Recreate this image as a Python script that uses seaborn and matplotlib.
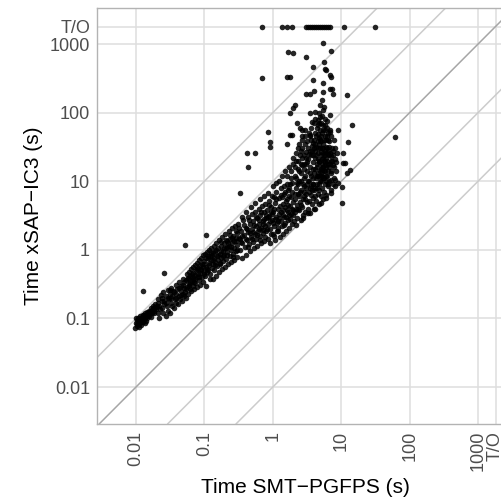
import matplotlib
matplotlib.use("Agg")
import matplotlib.pyplot as plt
from matplotlib.ticker import NullLocator
import seaborn as sns
import pandas as pd

TIMEOUT = 1800

# (SMT-PGFPS time, xSAP-IC3 time) in seconds
band_small = [
    (0.0098, 0.072), (0.0100, 0.085), (0.0102, 0.095), (0.0104, 0.078), (0.0106, 0.090),
    (0.0108, 0.102), (0.0110, 0.082), (0.0112, 0.096), (0.0114, 0.088), (0.0116, 0.108),
    (0.0118, 0.093), (0.0120, 0.080), (0.0122, 0.100), (0.0125, 0.112), (0.0127, 0.090),
    (0.0130, 0.104), (0.0132, 0.097), (0.0135, 0.118), (0.0138, 0.092), (0.0140, 0.108),
    (0.0143, 0.125), (0.0146, 0.100), (0.0150, 0.115), (0.0153, 0.130), (0.0156, 0.110),
    (0.0160, 0.122), (0.0163, 0.140), (0.0166, 0.105), (0.0170, 0.132), (0.0174, 0.118),
    (0.0178, 0.150), (0.0182, 0.128), (0.0186, 0.140), (0.0190, 0.160), (0.0195, 0.135),
    (0.0200, 0.150), (0.0112, 0.074), (0.0135, 0.085),
    (0.021, 0.12), (0.021, 0.19), (0.022, 0.15), (0.022, 0.10), (0.023, 0.22),
    (0.024, 0.14), (0.024, 0.18), (0.025, 0.12), (0.025, 0.24), (0.026, 0.16),
    (0.027, 0.11), (0.027, 0.21), (0.028, 0.15), (0.029, 0.26), (0.029, 0.13),
    (0.030, 0.19), (0.031, 0.23), (0.031, 0.12), (0.032, 0.17), (0.033, 0.28),
    (0.034, 0.15), (0.034, 0.21), (0.035, 0.25), (0.036, 0.14), (0.037, 0.19),
    (0.038, 0.31), (0.038, 0.17), (0.039, 0.23), (0.040, 0.27), (0.041, 0.16),
    (0.042, 0.21), (0.043, 0.34), (0.044, 0.19), (0.045, 0.25), (0.046, 0.30),
    (0.047, 0.18), (0.048, 0.23), (0.049, 0.38), (0.050, 0.21), (0.050, 0.28),
    (0.052, 0.24), (0.053, 0.36), (0.054, 0.20), (0.055, 0.44), (0.056, 0.29),
    (0.057, 0.39), (0.058, 0.23), (0.059, 0.48), (0.060, 0.32), (0.061, 0.27),
    (0.062, 0.41), (0.063, 0.52), (0.064, 0.25), (0.065, 0.35), (0.066, 0.45),
    (0.067, 0.30), (0.068, 0.56), (0.069, 0.38), (0.070, 0.27), (0.072, 0.60),
    (0.073, 0.43), (0.074, 0.33), (0.075, 0.50), (0.077, 0.65), (0.078, 0.29),
    (0.079, 0.40), (0.080, 0.55), (0.082, 0.70), (0.083, 0.36), (0.085, 0.46),
    (0.086, 0.31), (0.088, 0.76), (0.089, 0.52), (0.091, 0.40), (0.092, 0.62),
    (0.094, 0.83), (0.096, 0.34), (0.098, 0.48), (0.100, 0.68), (0.101, 0.88),
    (0.103, 0.42), (0.105, 0.57), (0.107, 0.30), (0.109, 0.93), (0.111, 0.75),
    (0.113, 0.50), (0.115, 0.64), (0.117, 0.99), (0.119, 0.38), (0.120, 0.82),
    (0.0101, 0.100), (0.0105, 0.082), (0.0109, 0.093), (0.0115, 0.100), (0.0121, 0.088),
    (0.0128, 0.113), (0.0136, 0.101), (0.0145, 0.112), (0.0155, 0.125), (0.0165, 0.118),
    (0.0175, 0.135), (0.0185, 0.118), (0.0196, 0.148), (0.0210, 0.165), (0.0225, 0.135),
    (0.0240, 0.20), (0.0260, 0.18), (0.0275, 0.17), (0.029, 0.20), (0.031, 0.26),
    (0.033, 0.20), (0.036, 0.24), (0.039, 0.20), (0.042, 0.28), (0.045, 0.22),
    (0.048, 0.31), (0.051, 0.34), (0.054, 0.27), (0.058, 0.37), (0.061, 0.33),
    (0.065, 0.40), (0.069, 0.46), (0.073, 0.38), (0.077, 0.52), (0.081, 0.45),
    (0.085, 0.60), (0.090, 0.50), (0.095, 0.56), (0.099, 0.62), (0.104, 0.75),
    (0.108, 0.52), (0.113, 0.82), (0.118, 0.60), (0.059, 0.30), (0.071, 0.34),
    (0.084, 0.40), (0.097, 0.45), (0.110, 0.48),
]

band_mid = [
    (0.122, 0.45), (0.124, 0.70), (0.126, 1.05), (0.128, 0.55), (0.130, 0.85),
    (0.132, 0.38), (0.134, 0.62), (0.136, 1.15), (0.138, 0.75), (0.140, 0.50),
    (0.142, 0.95), (0.145, 0.66), (0.147, 0.42), (0.150, 1.25), (0.152, 0.80),
    (0.155, 0.58), (0.157, 1.05), (0.160, 0.70), (0.163, 0.48), (0.166, 1.40),
    (0.168, 0.88), (0.171, 0.62), (0.174, 1.15), (0.177, 0.76), (0.180, 0.52),
    (0.183, 1.55), (0.186, 0.97), (0.189, 0.68), (0.192, 1.25), (0.195, 0.84),
    (0.198, 0.57), (0.202, 1.70), (0.205, 1.06), (0.209, 0.74), (0.213, 1.35),
    (0.217, 0.92), (0.221, 0.62), (0.225, 1.85), (0.229, 1.15), (0.233, 0.80),
    (0.237, 1.45), (0.241, 1.00), (0.245, 0.66), (0.250, 2.05), (0.255, 1.25),
    (0.260, 0.88), (0.265, 1.60), (0.270, 1.08), (0.275, 0.72), (0.280, 2.25),
    (0.285, 1.35), (0.290, 0.95), (0.295, 1.75), (0.300, 1.18), (0.300, 0.78),
    (0.135, 0.90), (0.175, 0.95), (0.215, 1.10), (0.255, 1.50), (0.290, 1.50),
    (0.31, 2.4), (0.32, 1.5), (0.33, 1.0), (0.34, 1.9), (0.35, 0.75),
    (0.36, 1.25), (0.37, 2.7), (0.38, 1.65), (0.39, 1.10), (0.40, 2.1),
    (0.41, 0.85), (0.42, 1.40), (0.43, 3.0), (0.44, 1.80), (0.45, 1.20),
    (0.46, 2.4), (0.47, 0.95), (0.48, 1.55), (0.49, 3.3), (0.50, 2.0),
    (0.51, 1.30), (0.52, 2.6), (0.53, 1.05), (0.54, 1.70), (0.55, 3.6),
    (0.56, 2.2), (0.57, 1.45), (0.58, 2.9), (0.59, 1.15), (0.60, 1.90),
    (0.62, 4.0), (0.63, 2.4), (0.64, 1.60), (0.66, 3.2), (0.67, 1.25),
    (0.68, 2.05), (0.70, 4.3), (0.71, 2.6), (0.72, 1.75), (0.74, 3.5),
    (0.75, 1.35), (0.76, 2.25), (0.78, 4.7), (0.79, 2.9), (0.80, 1.90),
    (0.33, 1.45), (0.42, 2.0), (0.52, 1.8), (0.62, 2.0), (0.72, 2.4),
    (0.82, 3.8), (0.84, 2.4), (0.85, 1.45), (0.87, 5.2), (0.89, 3.1),
    (0.90, 2.0), (0.92, 1.25), (0.94, 4.2), (0.96, 2.7), (0.98, 6.0),
    (1.00, 1.70), (1.02, 3.5), (1.04, 2.2), (1.06, 4.8), (1.08, 1.40),
    (1.10, 3.0), (1.12, 7.0), (1.15, 2.5), (1.17, 1.85), (1.20, 4.0),
    (1.22, 5.6), (1.25, 2.9), (1.28, 1.55), (1.30, 3.5), (1.33, 8.0),
    (1.36, 2.2), (1.39, 4.6), (1.42, 1.70), (1.45, 6.5), (1.48, 3.0),
    (1.51, 2.5), (1.54, 5.2), (1.57, 1.90), (1.60, 9.0), (1.63, 3.8),
    (1.67, 2.7), (1.70, 6.0), (1.74, 2.1), (1.78, 4.4), (1.82, 11.0),
    (1.85, 3.3), (1.89, 7.0), (1.93, 2.4), (1.97, 5.0), (2.00, 3.8),
    (0.95, 3.6), (1.18, 2.6), (1.40, 3.2), (1.65, 4.5), (1.90, 4.0),
    (0.125, 0.90), (0.133, 0.72), (0.141, 0.60), (0.149, 1.00), (0.158, 0.85),
    (0.167, 0.65), (0.176, 1.30), (0.185, 0.80), (0.194, 1.05), (0.204, 1.40),
    (0.214, 0.85), (0.224, 1.25), (0.235, 1.65), (0.247, 1.10), (0.259, 0.78),
    (0.272, 1.35), (0.286, 1.85), (0.30, 1.00), (0.32, 2.1), (0.34, 1.30),
    (0.36, 1.60), (0.38, 2.3), (0.40, 1.45), (0.43, 1.10), (0.45, 2.7),
    (0.47, 1.75), (0.50, 1.45), (0.53, 2.3), (0.56, 3.0), (0.59, 1.65),
    (0.62, 2.7), (0.65, 1.40), (0.68, 3.6), (0.71, 1.95), (0.74, 2.8),
    (0.77, 1.55), (0.80, 3.2),
    (0.83, 2.0), (0.86, 3.0), (0.88, 4.5), (0.91, 2.6), (0.93, 1.70),
    (0.97, 3.3), (1.01, 2.5), (1.05, 4.0), (1.09, 2.8), (1.13, 5.5),
    (1.16, 1.90), (1.21, 3.3), (1.26, 4.4), (1.31, 2.6), (1.37, 5.8),
    (1.41, 3.8), (1.47, 2.3), (1.52, 7.0), (1.58, 3.0), (1.62, 5.5),
    (1.68, 3.5), (1.73, 8.0), (1.79, 2.8), (1.84, 5.8), (1.91, 9.5),
    (1.96, 3.2), (1.50, 4.2), (1.20, 2.1), (1.05, 1.6), (1.75, 3.2),
]

band_large = [
    (2.05, 2.6), (2.08, 5.5), (2.10, 12), (2.13, 3.5), (2.16, 8),
    (2.20, 20), (2.23, 4.5), (2.26, 2.9), (2.30, 15), (2.33, 6.5),
    (2.36, 30), (2.40, 3.8), (2.43, 10), (2.47, 5.0), (2.50, 24),
    (2.54, 2.7), (2.58, 7.5), (2.62, 13), (2.66, 40), (2.70, 4.2),
    (2.74, 9), (2.78, 3.2), (2.82, 18), (2.86, 6.0), (2.90, 11),
    (2.95, 55), (3.00, 3.6), (3.05, 8), (3.10, 27), (3.15, 5.0),
    (3.20, 14), (3.25, 4.0), (3.30, 21), (3.35, 7), (3.40, 10),
    (3.45, 45), (3.50, 3.4), (3.55, 16), (3.60, 6.2), (3.65, 12),
    (3.70, 33), (3.75, 4.6), (3.80, 9), (3.85, 19), (3.90, 5.6),
    (3.95, 70), (4.00, 13), (2.25, 9.5), (2.65, 17), (3.05, 22),
    (3.40, 25), (3.75, 28), (2.40, 6.0), (2.85, 8.5), (3.20, 9.0),
    (3.60, 8.5), (3.95, 7.5), (2.15, 4.0), (2.55, 4.5), (2.95, 5.5),
    (4.05, 4.0), (4.10, 22), (4.15, 8), (4.20, 35), (4.25, 11),
    (4.30, 5.2), (4.35, 16), (4.40, 60), (4.45, 9), (4.50, 26),
    (4.55, 6.5), (4.60, 13), (4.65, 42), (4.70, 7.5), (4.75, 19),
    (4.80, 4.6), (4.85, 30), (4.90, 10), (4.95, 85), (5.00, 15),
    (5.05, 6), (5.10, 24), (5.15, 12), (5.20, 50), (5.25, 8),
    (5.30, 18), (5.35, 5.5), (5.40, 35), (5.45, 11), (5.50, 22),
    (5.55, 120), (5.60, 7), (5.65, 14), (5.70, 28), (5.75, 9),
    (5.80, 45), (5.85, 17), (5.90, 6.2), (5.95, 32), (6.00, 12),
    (6.10, 20), (6.20, 75), (6.30, 8.5), (6.40, 25), (6.50, 14),
    (6.60, 38), (6.70, 10), (6.80, 18), (6.90, 55), (7.00, 7.5),
    (7.10, 23), (7.20, 13), (7.30, 30), (7.45, 9), (7.60, 17),
    (7.75, 40), (7.90, 11), (8.10, 21), (8.30, 14), (8.60, 26),
    (4.20, 28), (4.60, 30), (5.00, 38), (5.40, 26), (5.80, 24),
    (6.20, 30), (4.40, 18), (4.80, 20), (5.20, 16), (5.60, 20),
    (6.00, 16), (6.40, 18), (4.30, 45), (4.90, 55), (5.50, 65),
    (6.10, 45), (4.70, 100), (5.30, 90), (4.00, 40), (6.60, 24),
    (2.2, 2.3), (2.8, 2.9), (3.3, 3.4), (4.2, 4.0), (5.0, 4.8),
    (6.0, 5.6), (7.0, 6.8), (8.0, 8.5), (9.0, 9.5),
    (2.1, 6.5), (2.2, 11), (2.3, 4.0), (2.4, 14), (2.5, 7),
    (2.6, 10), (2.7, 22), (2.8, 5.5), (2.9, 15), (3.0, 12),
    (3.1, 6.5), (3.2, 19), (3.3, 10), (3.4, 5.2), (3.5, 13),
    (3.6, 24), (3.7, 7.5), (3.8, 15), (3.9, 11), (4.0, 30),
    (4.1, 6), (4.2, 15), (4.3, 24), (4.4, 8), (4.5, 12),
    (4.6, 21), (4.7, 35), (4.8, 9), (4.9, 14), (5.0, 27),
    (5.1, 10), (5.2, 21), (5.3, 12), (5.4, 16), (5.5, 30),
    (5.6, 11), (5.7, 19), (5.8, 14), (5.9, 40), (6.0, 22),
    (6.2, 12), (6.4, 28), (6.6, 16), (6.8, 26), (7.0, 14),
    (7.2, 20), (7.5, 28), (7.8, 16), (8.2, 30), (3.0, 35),
    (3.6, 40), (4.1, 50), (4.5, 38), (5.1, 45), (5.6, 40),
    (6.3, 50), (3.3, 30), (2.6, 28), (4.8, 70), (5.7, 55),
]

band_top = [
    (0.35, 3.0), (0.40, 3.6), (0.48, 4.2), (0.55, 4.8), (0.65, 5.5),
    (0.75, 6.0), (0.85, 6.8), (1.0, 8.5), (1.1, 9.5), (1.25, 10),
    (1.35, 12), (1.5, 14), (1.6, 12), (1.7, 16), (1.85, 14),
    (1.95, 18), (2.0, 22), (2.1, 16), (2.2, 26), (2.35, 20),
    (2.45, 35), (2.55, 18), (2.7, 30), (2.85, 24), (3.0, 45),
    (3.1, 18), (3.2, 38), (3.35, 50), (3.5, 28), (3.65, 60),
    (3.8, 36), (3.9, 24), (4.1, 80), (4.3, 32), (4.5, 48),
    (4.6, 65), (4.9, 40), (5.0, 70), (5.2, 30), (5.4, 55),
    (5.7, 80), (5.9, 26), (6.1, 60), (6.4, 40), (6.7, 32),
    (7.0, 45), (7.3, 20), (7.7, 24), (8.4, 19), (1.3, 6.2),
    (1.45, 8.5), (1.65, 7.5), (1.8, 9.0), (1.05, 5.8), (2.3, 9),
    (2.9, 7), (3.45, 8), (3.9, 9), (4.35, 12), (4.85, 12),
    (5.3, 14), (5.9, 10), (6.5, 9), (7.0, 10.5),
]

sparse = [
    (0.0127, 0.25), (0.026, 0.46), (0.052, 1.17), (0.105, 1.65), (0.33, 6.7),
    (0.43, 16), (0.42, 26), (0.55, 26), (0.91, 32), (0.91, 37),
    (0.85, 52), (0.70, 319), (1.6, 330), (1.8, 330), (1.67, 764),
    (1.96, 740), (3.06, 646), (5.4, 1035), (7.1, 795), (5.6, 550),
    (6.0, 417), (5.4, 270), (7.3, 219), (61, 44),
    (3.9, 462), (5.8, 432), (6.9, 353), (7.1, 330), (3.9, 299),
    (3.06, 187), (3.5, 187), (4.0, 206), (5.4, 200), (6.9, 221),
    (7.6, 187), (12.2, 182), (5.2, 153), (4.9, 129), (2.12, 129),
    (1.98, 117), (1.79, 99), (3.5, 99), (4.1, 102), (5.4, 109),
    (6.9, 92), (2.25, 71), (2.5, 60), (3.74, 73), (4.57, 78),
    (5.8, 66), (1.91, 47), (2.65, 56), (3.5, 47), (6.9, 52),
    (8.9, 56), (14.2, 66), (12.6, 37), (10.5, 26), (10.5, 18.4),
    (13.5, 14.6), (10.3, 8.3), (8.1, 10.4), (10.3, 4.8), (12.2, 13),
    (11.2, 18.5), (1.6, 35), (1.8, 47), (2.7, 45),
]

timeout_smt = [0.70, 1.36, 1.61, 1.91, 3.06, 3.3, 3.5, 3.75, 4.0, 4.3,
               4.58, 4.9, 5.24, 5.6, 6.0, 6.4, 6.86, 11.0, 31.2]

ticks = [0.01, 0.1, 1, 10, 100, 1000, TIMEOUT]
tick_labels = ["0.01", "0.1", "1", "10", "100", "1000", "T/O"]
ratios = [100, 10, 1, 0.1, 0.01]

df = pd.DataFrame(band_small + band_mid + band_large + band_top + sparse,
                  columns=["smt", "ic3"])
df_to = pd.DataFrame({"smt": timeout_smt, "ic3": [TIMEOUT] * len(timeout_smt)})
df = pd.concat([df, df_to], ignore_index=True)

sns.set_theme(style="white")
plt.rcParams['font.family'] = ['Liberation Sans', 'DejaVu Sans']

fig = plt.figure(figsize=(5.02, 5.01), dpi=100)
ax = fig.add_axes([97 / 502, 77 / 501, 417 / 502, 416 / 501])
ax.set_xscale("log")
ax.set_yscale("log")

# diagonal reference lines y = r * x
for r in ratios:
    ax.axline((1, r), (10, 10 * r), color="#a6a6a6" if r == 1 else "#cccccc",
              lw=1.1, zorder=1)

sns.scatterplot(data=df, x="smt", y="ic3", ax=ax, color="black", s=16,
                linewidth=0, alpha=0.85, zorder=3)

ax.set_xlim(0.00269, 3350)
ax.set_ylim(0.00289, 3350)
ax.set_xticks(ticks)
ax.set_xticklabels(tick_labels, rotation=90)
ax.set_yticks(ticks)
ax.set_yticklabels(tick_labels)
ax.xaxis.set_minor_locator(NullLocator())
ax.yaxis.set_minor_locator(NullLocator())
ax.grid(True, which="major", color="#dedede", lw=1.1)
ax.set_axisbelow(True)

for sp in ax.spines.values():
    sp.set_color("#b3b3b3")
    sp.set_linewidth(1)
ax.tick_params(length=3, width=1, color="#b3b3b3", labelcolor="#4d4d4d",
               labelsize=13, pad=2)

ax.set_xlabel("Time SMT\u2212PGFPS (s)", fontsize=15, color="black", labelpad=5)
ax.set_ylabel("Time xSAP\u2212IC3 (s)", fontsize=15, color="black", labelpad=5)

fig.savefig("out.png", dpi=100)
